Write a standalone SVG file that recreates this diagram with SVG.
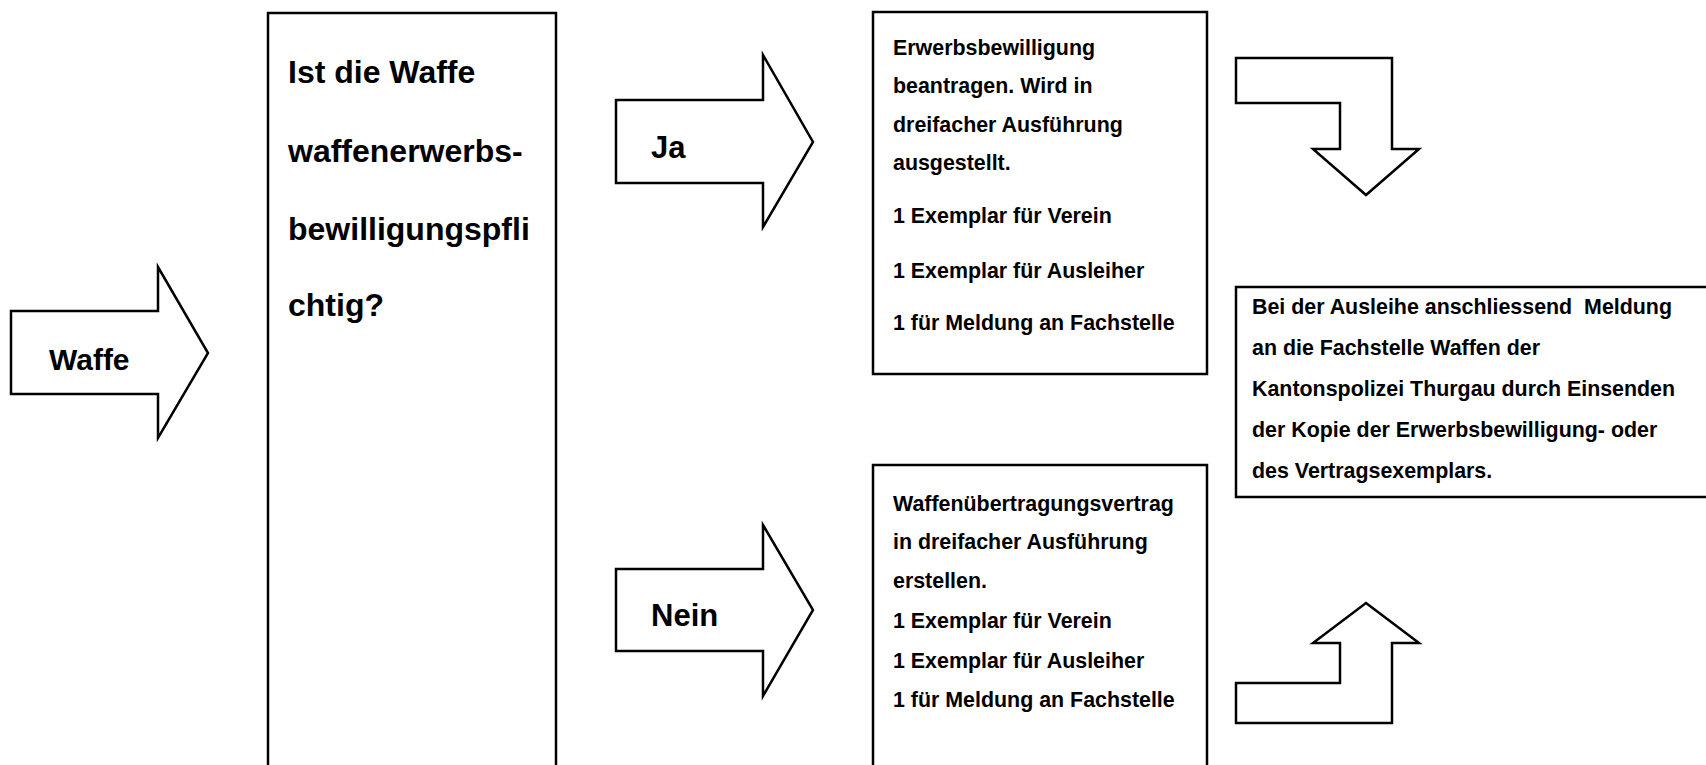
<svg xmlns="http://www.w3.org/2000/svg" width="1706" height="765" viewBox="0 0 1706 765">
<style>
.shape{fill:#fff;stroke:#000;stroke-width:2.5;stroke-linejoin:miter}
.t{font-family:"Liberation Sans",Arial,sans-serif;font-weight:bold;fill:#000}
.big{font-size:32px}
.lbl{font-size:31px}
.sm{font-size:21.4px}
</style>
<rect width="1706" height="765" fill="#fff"/>
<g id="connectors">
<path class="shape" d="M1236,58 L1392,58 L1392,149 L1419,149 L1366,195 L1313,149 L1340,149 L1340,103 L1236,103 Z"/>
<path class="shape" d="M1366,603 L1419,643 L1392,643 L1392,723 L1236,723 L1236,683 L1340,683 L1340,643 L1313,643 Z"/>
</g>
<g id="waffe">
<path class="shape" d="M11,311 L158,311 L158,267 L208,353 L158,438 L158,394 L11,394 Z"/>
<text class="t" x="49" y="370" font-size="30">Waffe</text>
</g>
<g id="frage">
<rect class="shape" x="268" y="13" width="288" height="800"/>
<text class="t big" x="288" y="83">Ist die Waffe</text>
<text class="t big" x="288" y="162">waffenerwerbs-</text>
<text class="t big" x="288" y="240">bewilligungspfli</text>
<text class="t big" x="288" y="316">chtig?</text>
</g>
<g id="ja">
<path class="shape" d="M616,100 L763,100 L763,55 L813,142 L763,227 L763,183 L616,183 Z"/>
<text class="t lbl" x="651" y="158">Ja</text>
</g>
<g id="nein">
<path class="shape" d="M616,569 L763,569 L763,525 L813,610 L763,696 L763,651 L616,651 Z"/>
<text class="t lbl" x="651" y="626">Nein</text>
</g>
<g id="erwerbsbewilligung">
<rect class="shape" x="873" y="12" width="334" height="362"/>
<text class="t sm" x="893" y="55">Erwerbsbewilligung</text>
<text class="t sm" x="893" y="93">beantragen. Wird in</text>
<text class="t sm" x="893" y="132">dreifacher Ausführung</text>
<text class="t sm" x="893" y="170">ausgestellt.</text>
<text class="t sm" x="893" y="223">1 Exemplar für Verein</text>
<text class="t sm" x="893" y="278">1 Exemplar für Ausleiher</text>
<text class="t sm" x="893" y="330">1 für Meldung an Fachstelle</text>
</g>
<g id="vertrag">
<rect class="shape" x="873" y="465" width="334" height="400"/>
<text class="t sm" x="893" y="511">Waffenübertragungsvertrag</text>
<text class="t sm" x="893" y="549">in dreifacher Ausführung</text>
<text class="t sm" x="893" y="588">erstellen.</text>
<text class="t sm" x="893" y="628">1 Exemplar für Verein</text>
<text class="t sm" x="893" y="668">1 Exemplar für Ausleiher</text>
<text class="t sm" x="893" y="707">1 für Meldung an Fachstelle</text>
</g>
<g id="meldung">
<rect class="shape" x="1236" y="287" width="500" height="210"/>
<text class="t sm" x="1252" y="314">Bei der Ausleihe anschliessend&#160; Meldung</text>
<text class="t sm" x="1252" y="355">an die Fachstelle Waffen der</text>
<text class="t sm" x="1252" y="396">Kantonspolizei Thurgau durch Einsenden</text>
<text class="t sm" x="1252" y="437">der Kopie der Erwerbsbewilligung- oder</text>
<text class="t sm" x="1252" y="478">des Vertragsexemplars.</text>
</g>
</svg>
